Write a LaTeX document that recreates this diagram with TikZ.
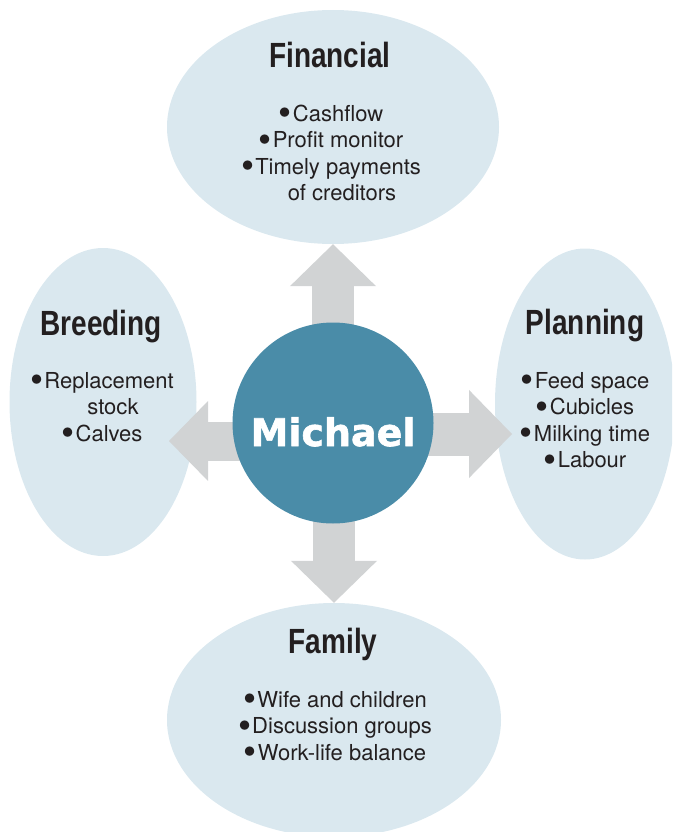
\documentclass[tikz,border=0pt]{standalone}
\usepackage{fontspec}
\setmainfont{TeX Gyre Heros}
\newfontfamily\headfont[FakeStretch=0.8]{Liberation Sans}
\newfontfamily\hubfont[BoldFeatures={FakeBold=1.6}]{DejaVu Sans}
\usetikzlibrary{arrows.meta,positioning,shapes}
\definecolor{bubblefill}{HTML}{DAE8EF}
\definecolor{hubfill}{HTML}{4A8CA8}
\definecolor{arrowgrey}{HTML}{D1D3D4}
\definecolor{inktext}{HTML}{231F20}
\newcommand{\itm}{\raisebox{-4.5pt}[0pt][0pt]{\scalebox{1.7}{\textbullet}}\hspace{1pt}}
\pgfdeclarelayer{front}
\pgfsetlayers{main,front}

\begin{document}
\begin{tikzpicture}[x=1pt,y=-1pt,
    bubble/.style={ellipse,fill=bubblefill,inner sep=0pt},
    hub/.style={circle,fill=hubfill,minimum size=201pt,inner sep=0pt,text=white,
        font=\hubfont\bfseries\fontsize{38}{38}\selectfont},
    heading/.style={anchor=base,text=inktext,font=\headfont\bfseries\fontsize{35}{35}\selectfont},
    items/.style={align=center,text=inktext,font=\fontsize{22}{26.5}\selectfont},
    fatarrow/.style={draw=arrowgrey,line width=#1,
        -{Triangle[length=#1,width=2.05*#1,line width=0pt,fill=arrowgrey]}}]
    \useasboundingbox (0,0) rectangle (672,832);
    \clip (0,0) rectangle (672,832);
    \node[bubble,minimum width=332pt,minimum height=234pt] (fin) at (333,127) {};
    \node[bubble,minimum width=187pt,minimum height=308pt] (breed) at (103,402) {};
    \node[bubble,minimum width=180pt,minimum height=311pt] (plan) at (585,404) {};
    \node[bubble,minimum width=334pt,minimum height=234pt] (fam) at (334,720) {};
    \begin{pgfonlayer}{front}
        \node[hub] (mich) at (333,423) {\raisebox{-23pt}[0pt][0pt]{Michael}};
    \end{pgfonlayer}
    \coordinate (btip) at (169,441);
    \coordinate (ptip) at (512,434);
    \draw[fatarrow=42pt] (fin.south |- mich.center) -- (fin.south);
    \draw[fatarrow=42pt] (fam.north |- mich.center) -- (fam.north);
    \draw[fatarrow=39pt] (mich.center |- btip) -- (btip);
    \draw[fatarrow=43pt] (mich.center |- ptip) -- (ptip);
    \node[heading] (fint) at (330,68) {Financial};
    \node[heading] (breedt) at (101,335) {Breeding};
    \node[heading] (plant) at (585,334) {Planning};
    \node[heading] (famt) at (333,653) {Family};
    \node[items] (finb) at (331,153) {\itm Cashflow\\\itm Profit monitor\\
        \itm Timely payments\\\hspace*{22pt}of creditors};
    \node[items] (breedb) at (102,407) {\itm Replacement\\\hspace*{22pt}stock\\\itm Calves};
    \node[items] (planb) at (585,420) {\itm Feed space\\\itm Cubicles\\
        \itm Milking time\\\itm Labour};
    \node[items] (famb) at (335,726) {\itm Wife and children\\\itm Discussion groups\\
        \itm Work-life balance};
\end{tikzpicture}
\end{document}
